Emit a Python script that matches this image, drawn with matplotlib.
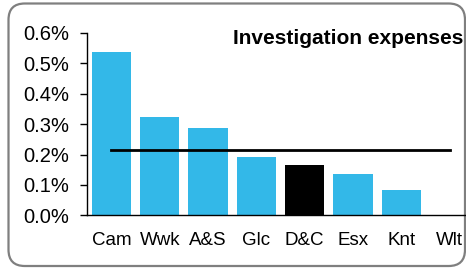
import matplotlib
matplotlib.use("Agg")
import matplotlib.pyplot as plt
from matplotlib.patches import FancyBboxPatch
from matplotlib.ticker import FuncFormatter

plt.rcParams['font.family'] = ['Liberation Sans', 'DejaVu Sans']

categories = ["Cam", "Wwk", "A&S", "Glc", "D&C", "Esx", "Knt", "Wlt"]
values = [0.538, 0.324, 0.288, 0.193, 0.166, 0.136, 0.083, 0.0]
average = 0.215
highlight = "D&C"
yticks = [0.0, 0.1, 0.2, 0.3, 0.4, 0.5, 0.6]
title = "Investigation expenses"

fig = plt.figure(figsize=(4.66, 2.68), dpi=100)

# rounded frame
frame = FancyBboxPatch((8.5 / 466, 1 - 266 / 268), (465 - 8.5) / 466, (266 - 3.5) / 268,
                       boxstyle="round,pad=0,rounding_size=0.035",
                       transform=fig.transFigure, facecolor="white",
                       edgecolor="#7f7f7f", linewidth=1.6, mutation_aspect=466 / 268,
                       zorder=-5)
fig.patches.append(frame)

ax = fig.add_axes([87.3 / 466, 52.7 / 268, 386.4 / 466, 182.3 / 268])
ax.set_zorder(2)
ax.set_facecolor("none")

x = list(range(len(categories)))
colors = ["#000000" if c == highlight else "#33B8E8" for c in categories]
ax.bar(x, values, width=0.81, color=colors, zorder=2)
ax.plot([x[0], x[-1]], [average, average], color="black", linewidth=2, zorder=3)

ax.set_xlim(-0.5, len(categories) - 0.5)
ax.set_ylim(0, 0.6)
ax.set_yticks(yticks)
ax.yaxis.set_major_formatter(FuncFormatter(lambda v, p: f"{v:.1f}%"))
ax.set_xticks(x)
ax.set_xticklabels(categories)

for s in ["top", "right"]:
    ax.spines[s].set_visible(False)
ax.spines["left"].set_linewidth(1.0)
ax.spines["bottom"].set_linewidth(1.0)
ax.tick_params(axis="y", direction="out", length=5, width=1, pad=8, labelsize=14.5)
ax.tick_params(axis="x", length=0, pad=12, labelsize=13.5)

fig.text(233 / 466, 1 - 38.5 / 268, title, fontsize=15, fontweight="bold",
         va="center", ha="left", zorder=10)

fig.savefig("out.png", dpi=100)
